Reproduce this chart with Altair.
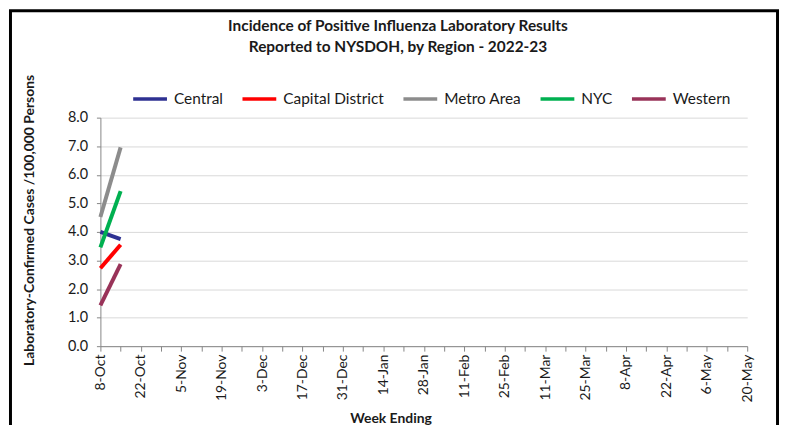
import altair as alt
import pandas as pd

weeks = ["8-Oct", "15-Oct", "22-Oct", "29-Oct", "5-Nov", "12-Nov", "19-Nov", "26-Nov",
         "3-Dec", "10-Dec", "17-Dec", "24-Dec", "31-Dec", "7-Jan", "14-Jan", "21-Jan",
         "28-Jan", "4-Feb", "11-Feb", "18-Feb", "25-Feb", "4-Mar", "11-Mar", "18-Mar",
         "25-Mar", "1-Apr", "8-Apr", "15-Apr", "22-Apr", "29-Apr", "6-May", "13-May", "20-May"]

reported_weeks = ["8-Oct", "15-Oct"]
regions = ["Central", "Capital District", "Metro Area", "NYC", "Western"]
central = [4.00, 3.75]
capital_district = [2.73, 3.55]
metro_area = [4.52, 6.96]
nyc = [3.46, 5.43]
western = [1.43, 2.87]
colors = ["#2E3192", "#FF0000", "#8C8C8C", "#00B050", "#993359"]

series = [central, capital_district, metro_area, nyc, western]
rows = []
for name, vals in zip(regions, series):
    for w, v in zip(reported_weeks, vals):
        rows.append({"week": w, "region": name, "value": v})
df = pd.DataFrame(rows)

weeks_js = "[" + ",".join("'" + w + "'" for w in weeks) + "]"
label_expr = f"indexof({weeks_js}, datum.value) % 2 == 0 ? datum.value : ''"

FONT = "Lato"
TXT = "#1a1a1a"

W, H = 651, 230

lines = alt.Chart(df).mark_line(strokeWidth=4, clip=False).encode(
    x=alt.X("week:O", sort=weeks,
            scale=alt.Scale(domain=weeks, type="point", padding=0),
            axis=alt.Axis(title="Week Ending", labelAngle=-90, labelAlign="right",
                          labelBaseline="middle", labelExpr=label_expr,
                          labelFontSize=14, labelColor=TXT, labelPadding=3,
                          tickSize=5, tickColor="#868686", domainColor="#868686",
                          titleFontSize=14, titleFontWeight="bold", titleColor=TXT,
                          titleX=292, titleY=66, grid=False)),
    y=alt.Y("value:Q",
            scale=alt.Scale(domain=[0, 8], nice=False, zero=True),
            axis=alt.Axis(title="Laboratory-Confirmed Cases /100,000 Persons",
                          values=[0, 1, 2, 3, 4, 5, 6, 7, 8], format=".1f",
                          labelFontSize=14.5, labelColor=TXT, labelPadding=9,
                          tickSize=4, tickColor="#868686", domainColor="#868686",
                          gridColor="#D9D9D9", gridWidth=1,
                          titleFontSize=14, titleFontWeight="bold", titleColor=TXT,
                          titleX=-64, titleY=103, titleAngle=-90)),
    color=alt.Color("region:N", sort=regions,
                    scale=alt.Scale(domain=regions, range=colors),
                    legend=alt.Legend(title=None, orient="none", direction="horizontal",
                                      legendX=31, legendY=-38,
                                      symbolType="stroke", symbolSize=1156,
                                      symbolStrokeWidth=3.5, labelFontSize=15.5,
                                      labelColor=TXT, columnPadding=12,
                                      labelOffset=5)),
)

border_data = alt.Data(values=[{}])
left_b = alt.Chart(border_data).mark_rule(color="black", strokeWidth=3).encode(
    x=alt.value(-90.5), y=alt.value(-107.5), y2=alt.value(330))
right_b = alt.Chart(border_data).mark_rule(color="black", strokeWidth=3).encode(
    x=alt.value(681.5), y=alt.value(-107.5), y2=alt.value(330))
top_b = alt.Chart(border_data).mark_rule(color="black", strokeWidth=3).encode(
    x=alt.value(-92), x2=alt.value(683), y=alt.value(-107.5))

chart = alt.layer(lines, left_b, right_b, top_b).properties(
    width=W, height=H,
    autosize=alt.AutoSizeParams(type="none"),
    padding={"left": 93, "top": 109, "right": 33, "bottom": 78},
    title=alt.Title(["Incidence of Positive Influenza Laboratory Results",
                     "Reported to NYSDOH, by Region - 2022-23"],
                    fontSize=15.5, fontWeight="bold", color=TXT, font=FONT,
                    anchor="middle", dx=-26, dy=50, lineHeight=21),
).configure(font=FONT).configure_view(stroke=None)

chart.save("out.html", embed_options={"renderer": "svg", "actions": False})
